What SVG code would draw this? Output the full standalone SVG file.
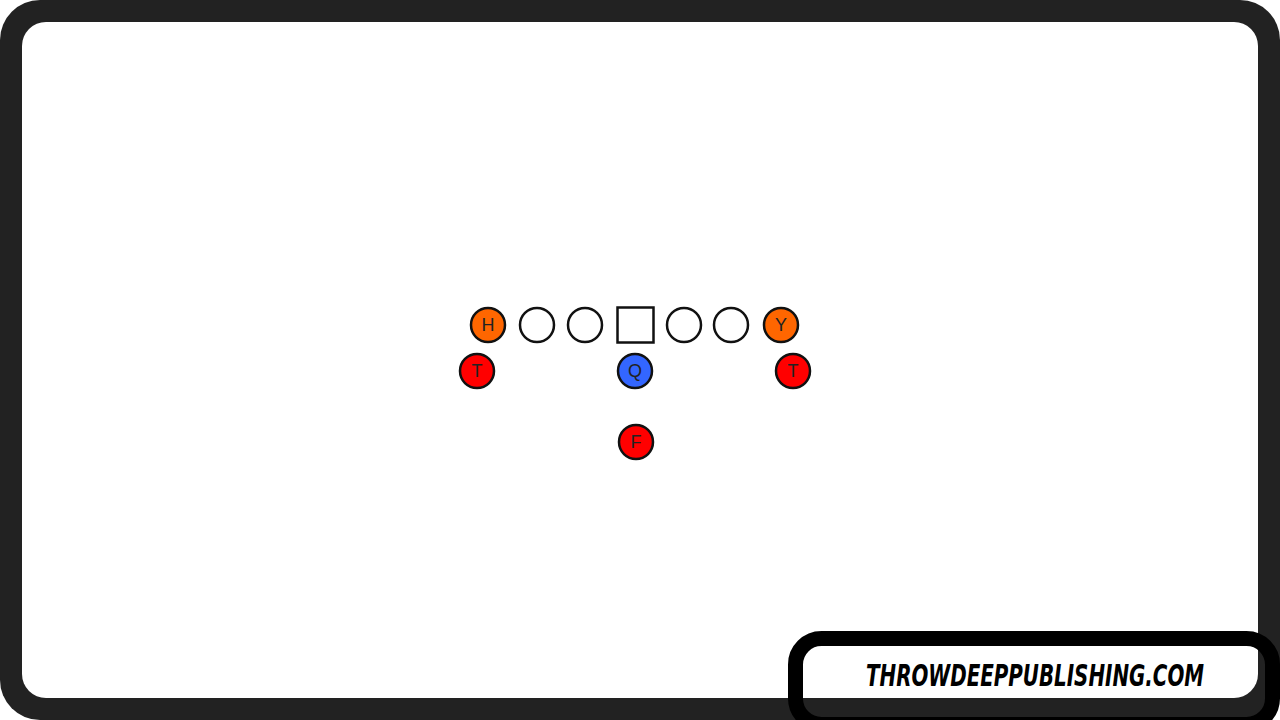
<svg xmlns="http://www.w3.org/2000/svg" width="1280" height="720" viewBox="0 0 1280 720">
<style>
.p{stroke:#111;stroke-width:2.5}
.lbl{font-family:"Liberation Sans",Arial,sans-serif;font-size:18px;fill:#222;text-anchor:middle;dominant-baseline:central}
.o{fill:#FF6600}.r{fill:#FF0000}.b{fill:#3366FF}.w{fill:#fff}
</style>
<rect x="0" y="0" width="1280" height="720" fill="#fff"/>
<rect x="0" y="0" width="1280" height="720" rx="40" fill="#222"/>
<rect x="22" y="22" width="1236" height="676" rx="24" fill="#fff"/>
<g id="H"><circle class="p o" cx="488" cy="325" r="17"/><text class="lbl" x="488" y="325">H</text></g>
<g id="OL1"><circle class="p w" cx="537" cy="325" r="17"/></g>
<g id="OL2"><circle class="p w" cx="585" cy="325" r="17"/></g>
<g id="C"><rect class="p w" x="617.5" y="307.5" width="36" height="35"/></g>
<g id="OL3"><circle class="p w" cx="684" cy="325" r="17"/></g>
<g id="OL4"><circle class="p w" cx="731" cy="325" r="17"/></g>
<g id="Y"><circle class="p o" cx="781" cy="325" r="17"/><text class="lbl" x="781" y="325">Y</text></g>
<g id="T1"><circle class="p r" cx="477" cy="371" r="17"/><text class="lbl" x="477" y="371">T</text></g>
<g id="Q"><circle class="p b" cx="635" cy="371" r="17"/><text class="lbl" x="635" y="371">Q</text></g>
<g id="T2"><circle class="p r" cx="793" cy="371" r="17"/><text class="lbl" x="793" y="371">T</text></g>
<g id="F"><circle class="p r" cx="636" cy="442" r="17"/><text class="lbl" x="636" y="442">F</text></g>
<g id="connectors"></g>
<g id="badge">
<rect x="795.5" y="638.5" width="477" height="86" rx="26" fill="none" stroke="#000" stroke-width="15"/>
<text x="866" y="686" font-family="'DejaVu Sans Condensed','DejaVu Sans',sans-serif" font-weight="bold" font-style="italic" font-size="30" fill="#000" textLength="338" lengthAdjust="spacingAndGlyphs">THROWDEEPPUBLISHING.COM</text>
</g>
</svg>
